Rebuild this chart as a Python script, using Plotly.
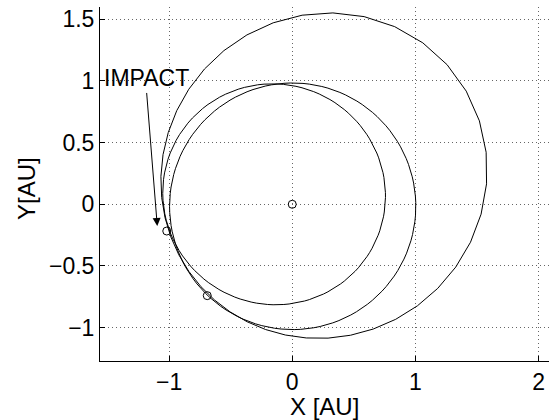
import numpy as np
import plotly.graph_objects as go

# ---- data ----
orbit_names = ["Earth", "Transfer", "Asteroid"]
orbit_a = [1.0, 0.908, 1.345]            # semi-major axis [AU]
orbit_e = [0.0167, 0.185, 0.258]         # eccentricity
orbit_peri_deg = [102.9, -28.8, 222.0]   # longitude of perihelion [deg]
orbit_samples = [120, 120, 40]

marker_x = [0.0, -1.019, -0.69]
marker_y = [0.0, -0.217, -0.741]

x_ticks = [-1, 0, 1, 2]
x_ticktext = ["\u22121", "0", "1", "2"]
y_ticks = [-1, -0.5, 0, 0.5, 1, 1.5]
y_ticktext = ["\u22121", "\u22120.5", "0", "0.5", "1", "1.5"]

impact_label = "IMPACT"
impact_tip = (-1.096, -0.176)
impact_tail = (-1.183, 0.915)
impact_text_pos = (-1.52, 1.024)

FONT = "Liberation Sans, Arial, Helvetica, sans-serif"

fig = go.Figure()

for name, a, e, w, n in zip(orbit_names, orbit_a, orbit_e, orbit_peri_deg, orbit_samples):
    nu = np.linspace(0, 2 * np.pi, n + 1)
    r = a * (1 - e ** 2) / (1 + e * np.cos(nu))
    th = nu + np.radians(w)
    fig.add_trace(go.Scatter(x=r * np.cos(th), y=r * np.sin(th), mode="lines",
                             line=dict(color="black", width=1), name=name,
                             showlegend=False, hoverinfo="skip"))

fig.add_trace(go.Scatter(x=marker_x, y=marker_y, mode="markers",
                         marker=dict(symbol="circle-open", size=8, color="black",
                                     line=dict(width=1, color="black")),
                         showlegend=False))

axis_common = dict(showline=True, linecolor="black", linewidth=1, mirror=False,
                   ticks="inside", ticklen=5, tickwidth=1, tickcolor="black",
                   showgrid=True, gridcolor="#666666", gridwidth=1, griddash="1px,3px",
                   zeroline=False, tickfont=dict(family=FONT, size=23, color="black"))

fig.update_xaxes(range=[-1.561, 2.085], tickvals=x_ticks, ticktext=x_ticktext, **axis_common)
fig.update_yaxes(range=[-1.271, 1.6], tickvals=y_ticks, ticktext=y_ticktext, **axis_common)

fig.add_annotation(x=impact_tip[0], y=impact_tip[1], ax=impact_tail[0], ay=impact_tail[1],
                   xref="x", yref="y", axref="x", ayref="y", text="", showarrow=True,
                   arrowhead=2, arrowsize=1.6, arrowwidth=1, arrowcolor="black", standoff=0)
fig.add_annotation(x=impact_text_pos[0], y=impact_text_pos[1], xref="x", yref="y",
                   text=impact_label, showarrow=False, xanchor="left", yanchor="middle",
                   xshift=-3, font=dict(family=FONT, size=23, color="black"))

# axis titles
fig.add_annotation(x=0.5, y=0, xref="paper", yref="paper", yshift=-45, text="X [AU]",
                   showarrow=False, xanchor="center", yanchor="middle",
                   font=dict(family=FONT, size=24, color="black"))
fig.add_annotation(x=0, y=0.5, xref="paper", yref="paper", xshift=-74, yshift=-5, text="Y[AU]",
                   textangle=-90, showarrow=False, xanchor="center", yanchor="middle",
                   font=dict(family=FONT, size=24, color="black"))

fig.update_layout(width=549, height=420, margin=dict(l=100, r=0, t=7, b=59),
                  plot_bgcolor="white", paper_bgcolor="white", showlegend=False)

fig.write_html("out.html")
